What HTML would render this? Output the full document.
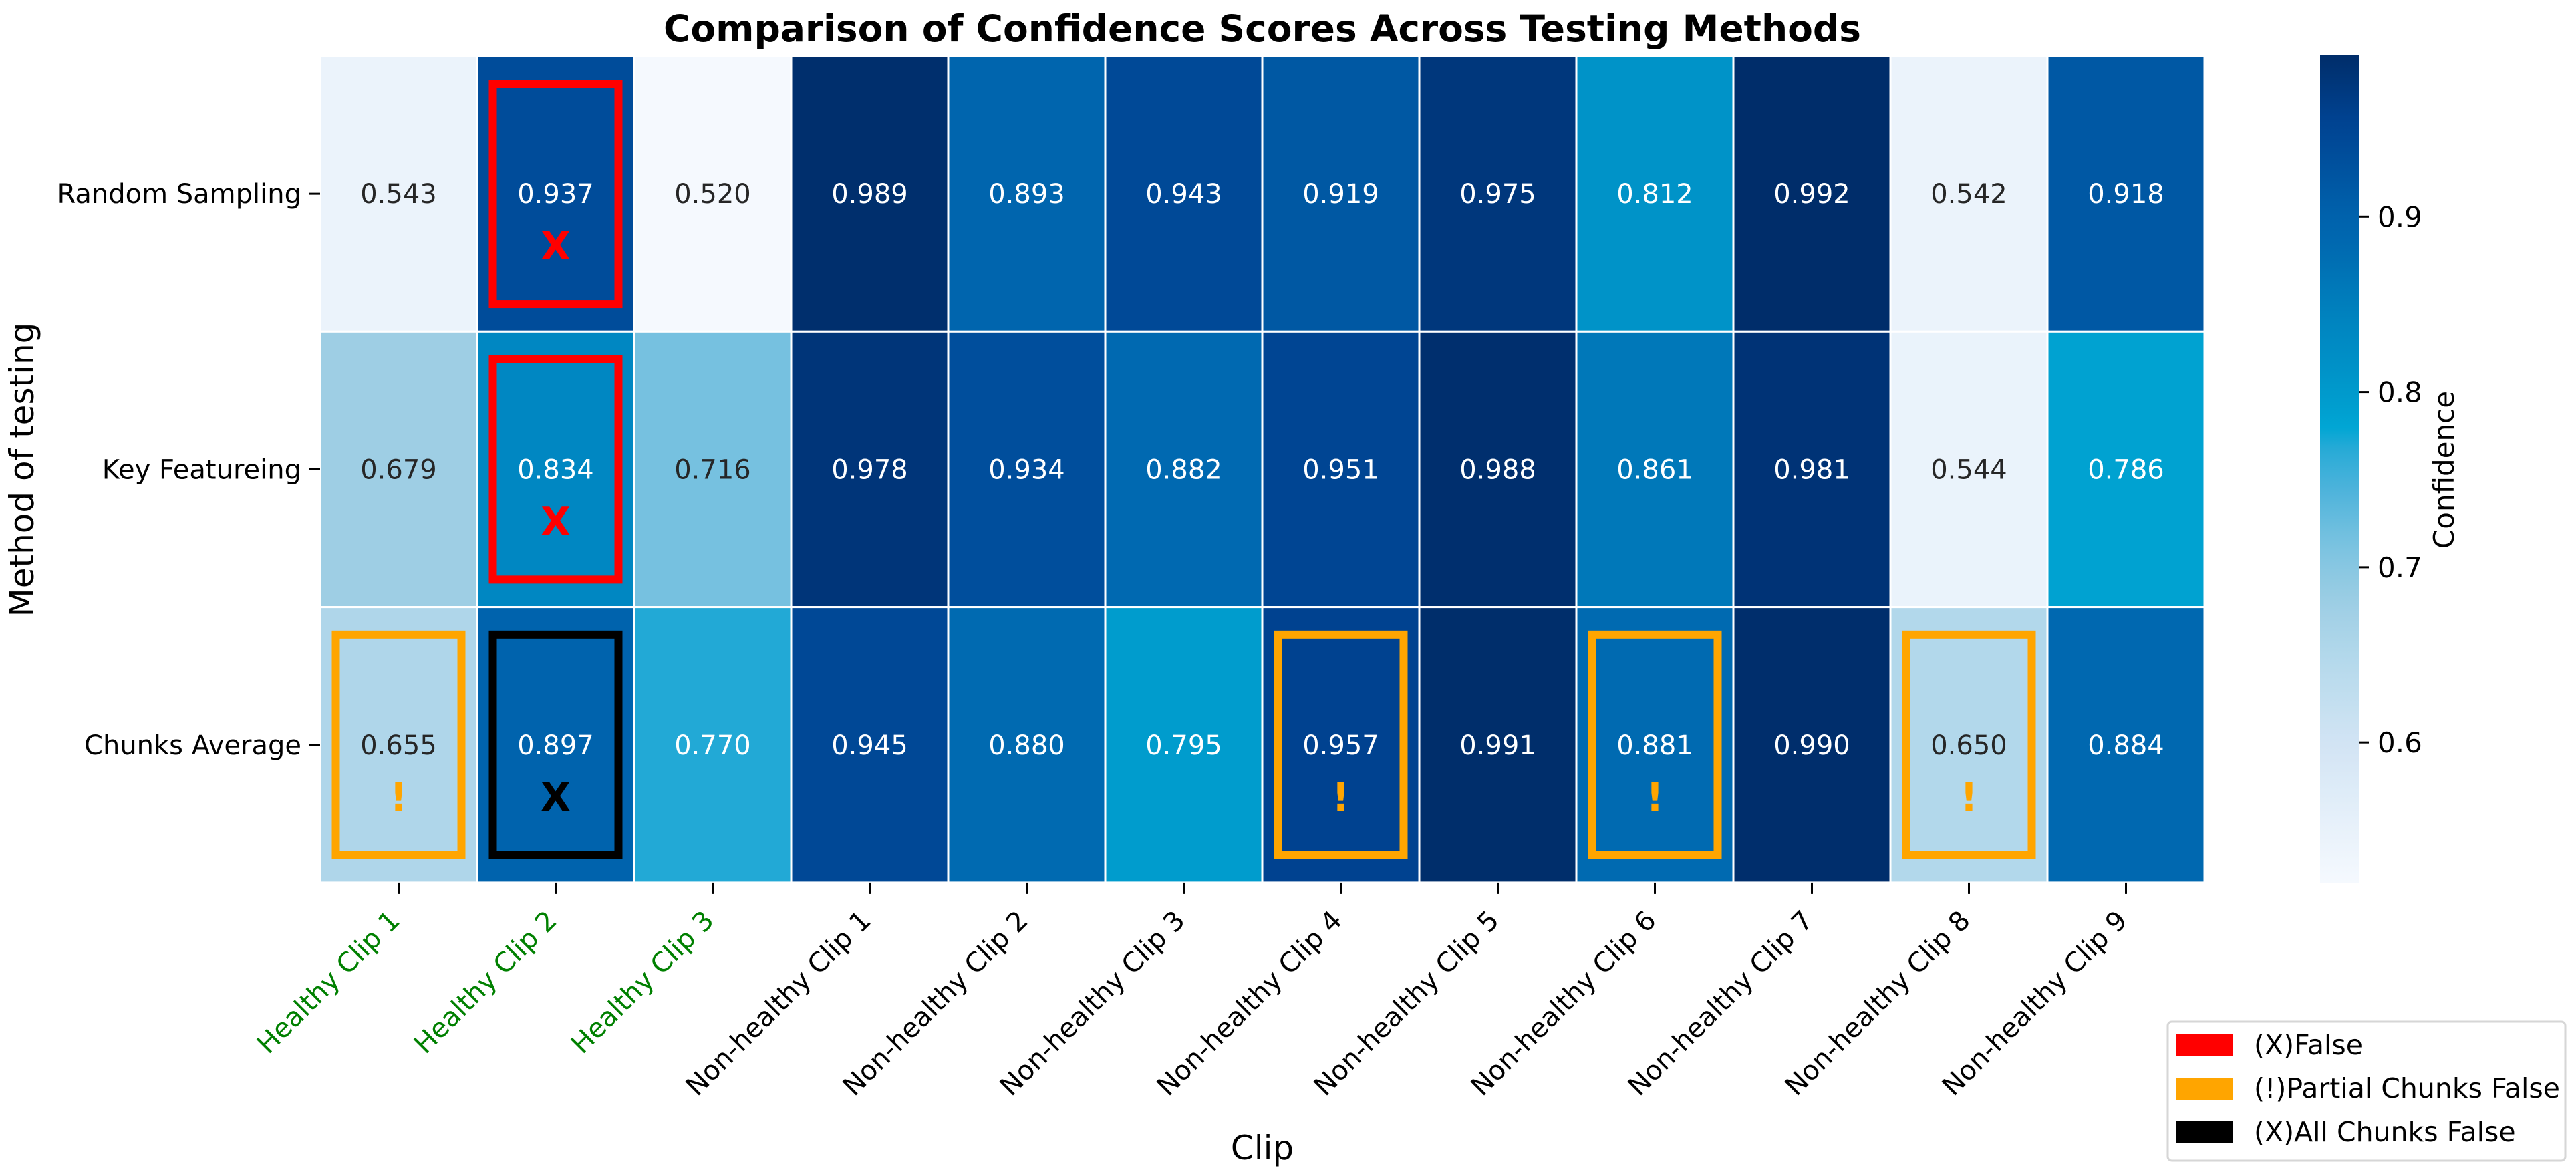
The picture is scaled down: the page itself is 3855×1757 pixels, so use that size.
<!DOCTYPE html>
<html><head><meta charset="utf-8"><style>
html,body{margin:0;padding:0;background:#fff;}
svg{display:block;font-family:"DejaVu Sans","Liberation Sans",sans-serif;}
</style></head><body>
<svg id="chart" width="3855" height="1757" viewBox="0 0 3855 1757" xmlns="http://www.w3.org/2000/svg">
<rect x="0" y="0" width="3855" height="1757" fill="#fff"/>
<text x="1889" y="62" text-anchor="middle" font-size="55" font-weight="bold">Comparison of Confidence Scores Across Testing Methods</text>
<g id="cells"></g>
<g id="marks"></g>
<g id="yticks"></g>
<g id="xticks"></g>
<text transform="translate(50,703) rotate(-90)" text-anchor="middle" font-size="50">Method of testing</text>
<text x="1889" y="1735" text-anchor="middle" font-size="50">Clip</text>
<defs><linearGradient id="cbgrad" x1="0" y1="1" x2="0" y2="0"></linearGradient></defs>
<g id="colorbar"></g>
<g>
<rect x="3244" y="1529" width="595" height="208" rx="6" fill="#fff" stroke="#d6d6d6" stroke-width="3"/>
<rect x="3256" y="1548" width="86" height="33" fill="#ff0000"/>
<text x="3373" y="1578" font-size="41">(X)False</text>
<rect x="3256" y="1613" width="86" height="33" fill="#ffa500"/>
<text x="3373" y="1643" font-size="41">(!)Partial Chunks False</text>
<rect x="3256" y="1678" width="86" height="33" fill="#000000"/>
<text x="3373" y="1708" font-size="41">(X)All Chunks False</text>
</g>
</svg>
<script>
const methods = ["Random Sampling", "Key Featureing", "Chunks Average"];
const clips = ["Healthy Clip 1","Healthy Clip 2","Healthy Clip 3","Non-healthy Clip 1","Non-healthy Clip 2","Non-healthy Clip 3","Non-healthy Clip 4","Non-healthy Clip 5","Non-healthy Clip 6","Non-healthy Clip 7","Non-healthy Clip 8","Non-healthy Clip 9"];
const randomSampling = [0.543,0.937,0.520,0.989,0.893,0.943,0.919,0.975,0.812,0.992,0.542,0.918];
const keyFeatureing = [0.679,0.834,0.716,0.978,0.934,0.882,0.951,0.988,0.861,0.981,0.544,0.786];
const chunksAverage = [0.655,0.897,0.770,0.945,0.880,0.795,0.957,0.991,0.881,0.990,0.650,0.884];
const flagRows = [0,1,2,2,2,2,2];
const flagCols = [1,1,0,1,6,8,10];
const flagTypes = ["false","false","partial","all","partial","partial","partial"];
const cbTicks = [0.6,0.7,0.8,0.9];
const vmin = 0.520, vmax = 0.992;

const NS="http://www.w3.org/2000/svg";
const rows=[randomSampling,keyFeatureing,chunksAverage];
const L=479,T=84,CW=235,RH=412.3;
const xc=i=>L+CW*(i+0.5);
const yc=j=>T+RH*(j+0.5);
const stops=[[0.520,"#f5f9fe"],[0.60,"#d2e4f4"],[0.65,"#b2d8eb"],[0.68,"#9dcee4"],[0.716,"#76c1e0"],[0.745,"#4cb3db"],[0.77,"#22a9d6"],[0.78,"#00a6d4"],[0.795,"#009ccd"],[0.834,"#0087c2"],[0.86,"#0079b9"],[0.88,"#006ab1"],[0.897,"#0063ad"],[0.92,"#0057a3"],[0.937,"#004c9a"],[0.957,"#004290"],[0.975,"#00377c"],[0.992,"#002d6a"]];
function hx(c){return [1,3,5].map(k=>parseInt(c.substr(k,2),16));}
function color(v){
  if(v<=stops[0][0])return stops[0][1];
  for(let k=1;k<stops.length;k++){if(v<=stops[k][0]){const a=stops[k-1],b=stops[k];const t=(v-a[0])/(b[0]-a[0]);const ca=hx(a[1]),cb=hx(b[1]);return "rgb("+ca.map((x,i)=>Math.round(x+(cb[i]-x)*t)).join(",")+")";}}
  return stops[stops.length-1][1];
}
function el(tag,attrs,parent){const e=document.createElementNS(NS,tag);for(const k in attrs)e.setAttribute(k,attrs[k]);parent.appendChild(e);return e;}
const cells=document.getElementById('cells');
rows.forEach((r,j)=>r.forEach((v,i)=>{
  const rc=el('rect',{x:L+CW*i,y:T+RH*j,width:CW,height:RH,fill:color(v),stroke:'#fff','stroke-width':3},cells);
  
  
  const tx=el('text',{x:xc(i),y:yc(j)+14,'text-anchor':'middle','font-size':40,fill:v>0.76?'#fff':'#262626'},cells);
  tx.textContent=v.toFixed(3);
  
  
}));
const marks=document.getElementById('marks');
const fcol={false:'#ff0000',partial:'#ffa500',all:'#000000'};
const fsym={false:'X',partial:'!',all:'X'};
flagTypes.forEach((t,k)=>{
  const i=flagCols[k],j=flagRows[k];
  const r=el('rect',{x:L+CW*i+CW*0.1,y:T+RH*j+RH*0.1,width:CW*0.8,height:RH*0.8,fill:'none',stroke:fcol[t],'stroke-width':12},marks);
  
  
  const s=el('text',{x:xc(i),y:yc(j)+98,'text-anchor':'middle','font-size':58,'font-weight':'bold',fill:fcol[t]},marks);
  s.textContent=fsym[t];
  
  
});
const yt=document.getElementById('yticks');
methods.forEach((m,j)=>{
  const ln=el('line',{x1:L-17,x2:L,y1:yc(j),y2:yc(j),stroke:'#000','stroke-width':3},yt);
  
  
  const t=el('text',{x:L-28,y:yc(j)+14,'text-anchor':'end','font-size':40},yt);
  t.textContent=m;
  
  
});
const xt=document.getElementById('xticks');
clips.forEach((c,i)=>{
  const ln=el('line',{x1:xc(i),x2:xc(i),y1:T+RH*3,y2:T+RH*3+17,stroke:'#000','stroke-width':3},xt);
  
  
  const t=el('text',{transform:'translate('+(xc(i)+4)+',1380) rotate(-45)','text-anchor':'end','font-size':40,fill:c.startsWith('Healthy')?'#008000':'#000'},xt);
  t.textContent=c;
  
  
});
const grad=document.getElementById('cbgrad');
for(let k=0;k<=40;k++){const v=vmin+(vmax-vmin)*k/40;el('stop',{offset:(k/40),'stop-color':color(v)},grad);}
const cb=document.getElementById('colorbar');
const CBX=3472,CBW=59,CBT=83,CBB=1321;
const cy=v=>CBB-(v-vmin)/(vmax-vmin)*(CBB-CBT);
const bar=el('rect',{x:CBX,y:CBT,width:CBW,height:CBB-CBT,fill:'url(#cbgrad)'},cb);


cbTicks.forEach(v=>{
  const ln=el('line',{x1:CBX+CBW,x2:CBX+CBW+14,y1:cy(v),y2:cy(v),stroke:'#000','stroke-width':3},cb);
  
  
  const t=el('text',{x:CBX+CBW+27,y:cy(v)+15,'font-size':42},cb);
  t.textContent=v.toFixed(1);
  
  
});
const cl=el('text',{transform:'translate(3672,703) rotate(-90)','text-anchor':'middle','font-size':42},cb);
cl.textContent='Confidence';


</script>
</body></html>
